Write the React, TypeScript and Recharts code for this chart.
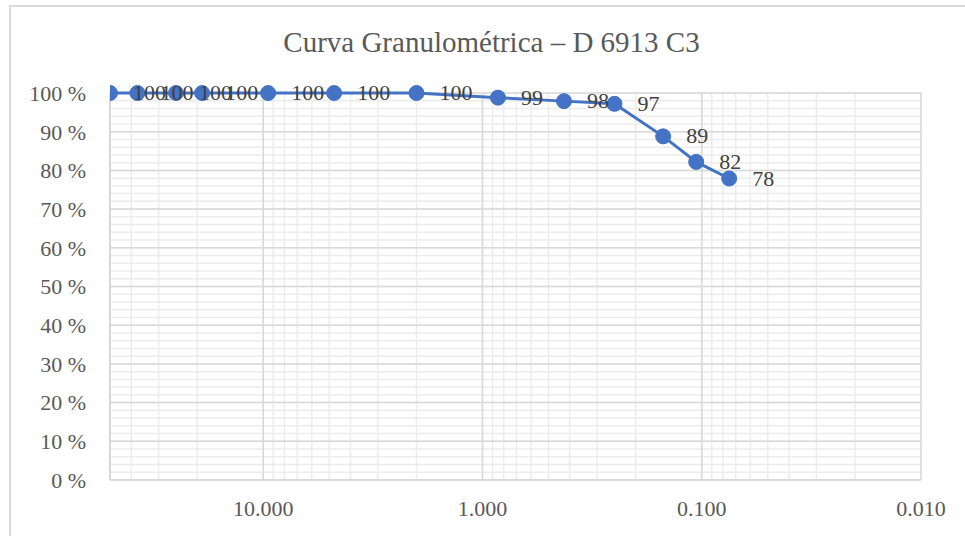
import { LineChart, Line, XAxis, YAxis, CartesianGrid, ReferenceLine, LabelList } from 'recharts'

const sieveSizes = [50, 37.5, 25, 19, 9.5, 4.75, 2.0, 0.85, 0.425, 0.25, 0.15, 0.106, 0.075]
const passing = [100, 100, 100, 100, 100, 100, 100, 98.8, 97.9, 97.2, 88.8, 82.2, 77.9]

const majorX = [10, 1, 0.1, 0.01]
const minorX = [
  20, 30, 40, 50,
  2, 3, 4, 5, 6, 7, 8, 9,
  0.2, 0.3, 0.4, 0.5, 0.6, 0.7, 0.8, 0.9,
  0.02, 0.03, 0.04, 0.05, 0.06, 0.07, 0.08, 0.09,
]
const yTicks = [0, 2, 4, 6, 8, 10, 12, 14, 16, 18, 20, 22, 24, 26, 28, 30, 32, 34, 36, 38, 40, 42, 44, 46, 48, 50,
  52, 54, 56, 58, 60, 62, 64, 66, 68, 70, 72, 74, 76, 78, 80, 82, 84, 86, 88, 90, 92, 94, 96, 98, 100]
const majorY = [10, 20, 30, 40, 50, 60, 70, 80, 90, 100]

const FONT = '"Liberation Serif", "Times New Roman", serif'
const BLUE = '#4472C4'

const data = sieveSizes.map((size, i) => ({ size, pct: passing[i] }))

export default function App() {
  return (
    <div style={{ position: 'absolute', left: 0, top: 0, width: 965, height: 536, background: '#fff', overflow: 'hidden' }}>
      <div style={{ position: 'absolute', left: 9, top: 5, width: 1000, height: 600, borderLeft: '2px solid #d9d9d9', borderTop: '2px solid #d9d9d9' }} />
      <div style={{ position: 'absolute', left: 0, top: 26, width: 983, textAlign: 'center', fontFamily: FONT, fontSize: 29, color: '#595959' }}>
        Curva Granulométrica – D 6913 C3
      </div>
      <div style={{ position: 'absolute', left: 0, top: 0 }}>
        <LineChart width={965} height={536} data={data} margin={{ top: 93, right: 44, left: 10, bottom: 0 }}>
          <CartesianGrid stroke="#ececec" strokeWidth={1.5} />
          {majorX.map((v) => (
            <ReferenceLine key={'x' + v} x={v} stroke="#d9d9d9" strokeWidth={1.5} />
          ))}
          {majorY.map((v) => (
            <ReferenceLine key={'y' + v} y={v} stroke="#d9d9d9" strokeWidth={1.5} />
          ))}
          <XAxis
            dataKey="size"
            type="number"
            scale="log"
            domain={[0.01, 50]}
            reversed
            allowDataOverflow
            ticks={[...majorX, ...minorX]}
            interval={0}
            tickFormatter={(v: number) => (majorX.includes(v) ? v.toFixed(3) : '')}
            height={56}
            tickLine={false}
            axisLine={{ stroke: '#d0d0d0', strokeWidth: 1.5 }}
            tick={{ fontFamily: FONT, fontSize: 22, fill: '#595959' }}
            tickMargin={14}
          />
          <YAxis
            type="number"
            domain={[0, 100]}
            ticks={yTicks}
            interval={0}
            tickFormatter={(v: number) => (v % 10 === 0 ? `${v} %` : '')}
            width={100}
            tickLine={false}
            axisLine={{ stroke: '#d0d0d0', strokeWidth: 1.5 }}
            tick={{ fontFamily: FONT, fontSize: 22, fill: '#595959' }}
            tickMargin={18}
          />
          <Line
            dataKey="pct"
            stroke={BLUE}
            strokeWidth={3}
            dot={{ r: 7.5, fill: BLUE, stroke: BLUE, strokeWidth: 1 }}
            isAnimationActive={false}
          >
            <LabelList
              dataKey="pct"
              content={(p: any) => (
                <text x={p.x + 23} y={p.y + 7} fontFamily={FONT} fontSize={22} fill="#404040">
                  {Math.round(p.value)}
                </text>
              )}
            />
          </Line>
        </LineChart>
      </div>
    </div>
  )
}
